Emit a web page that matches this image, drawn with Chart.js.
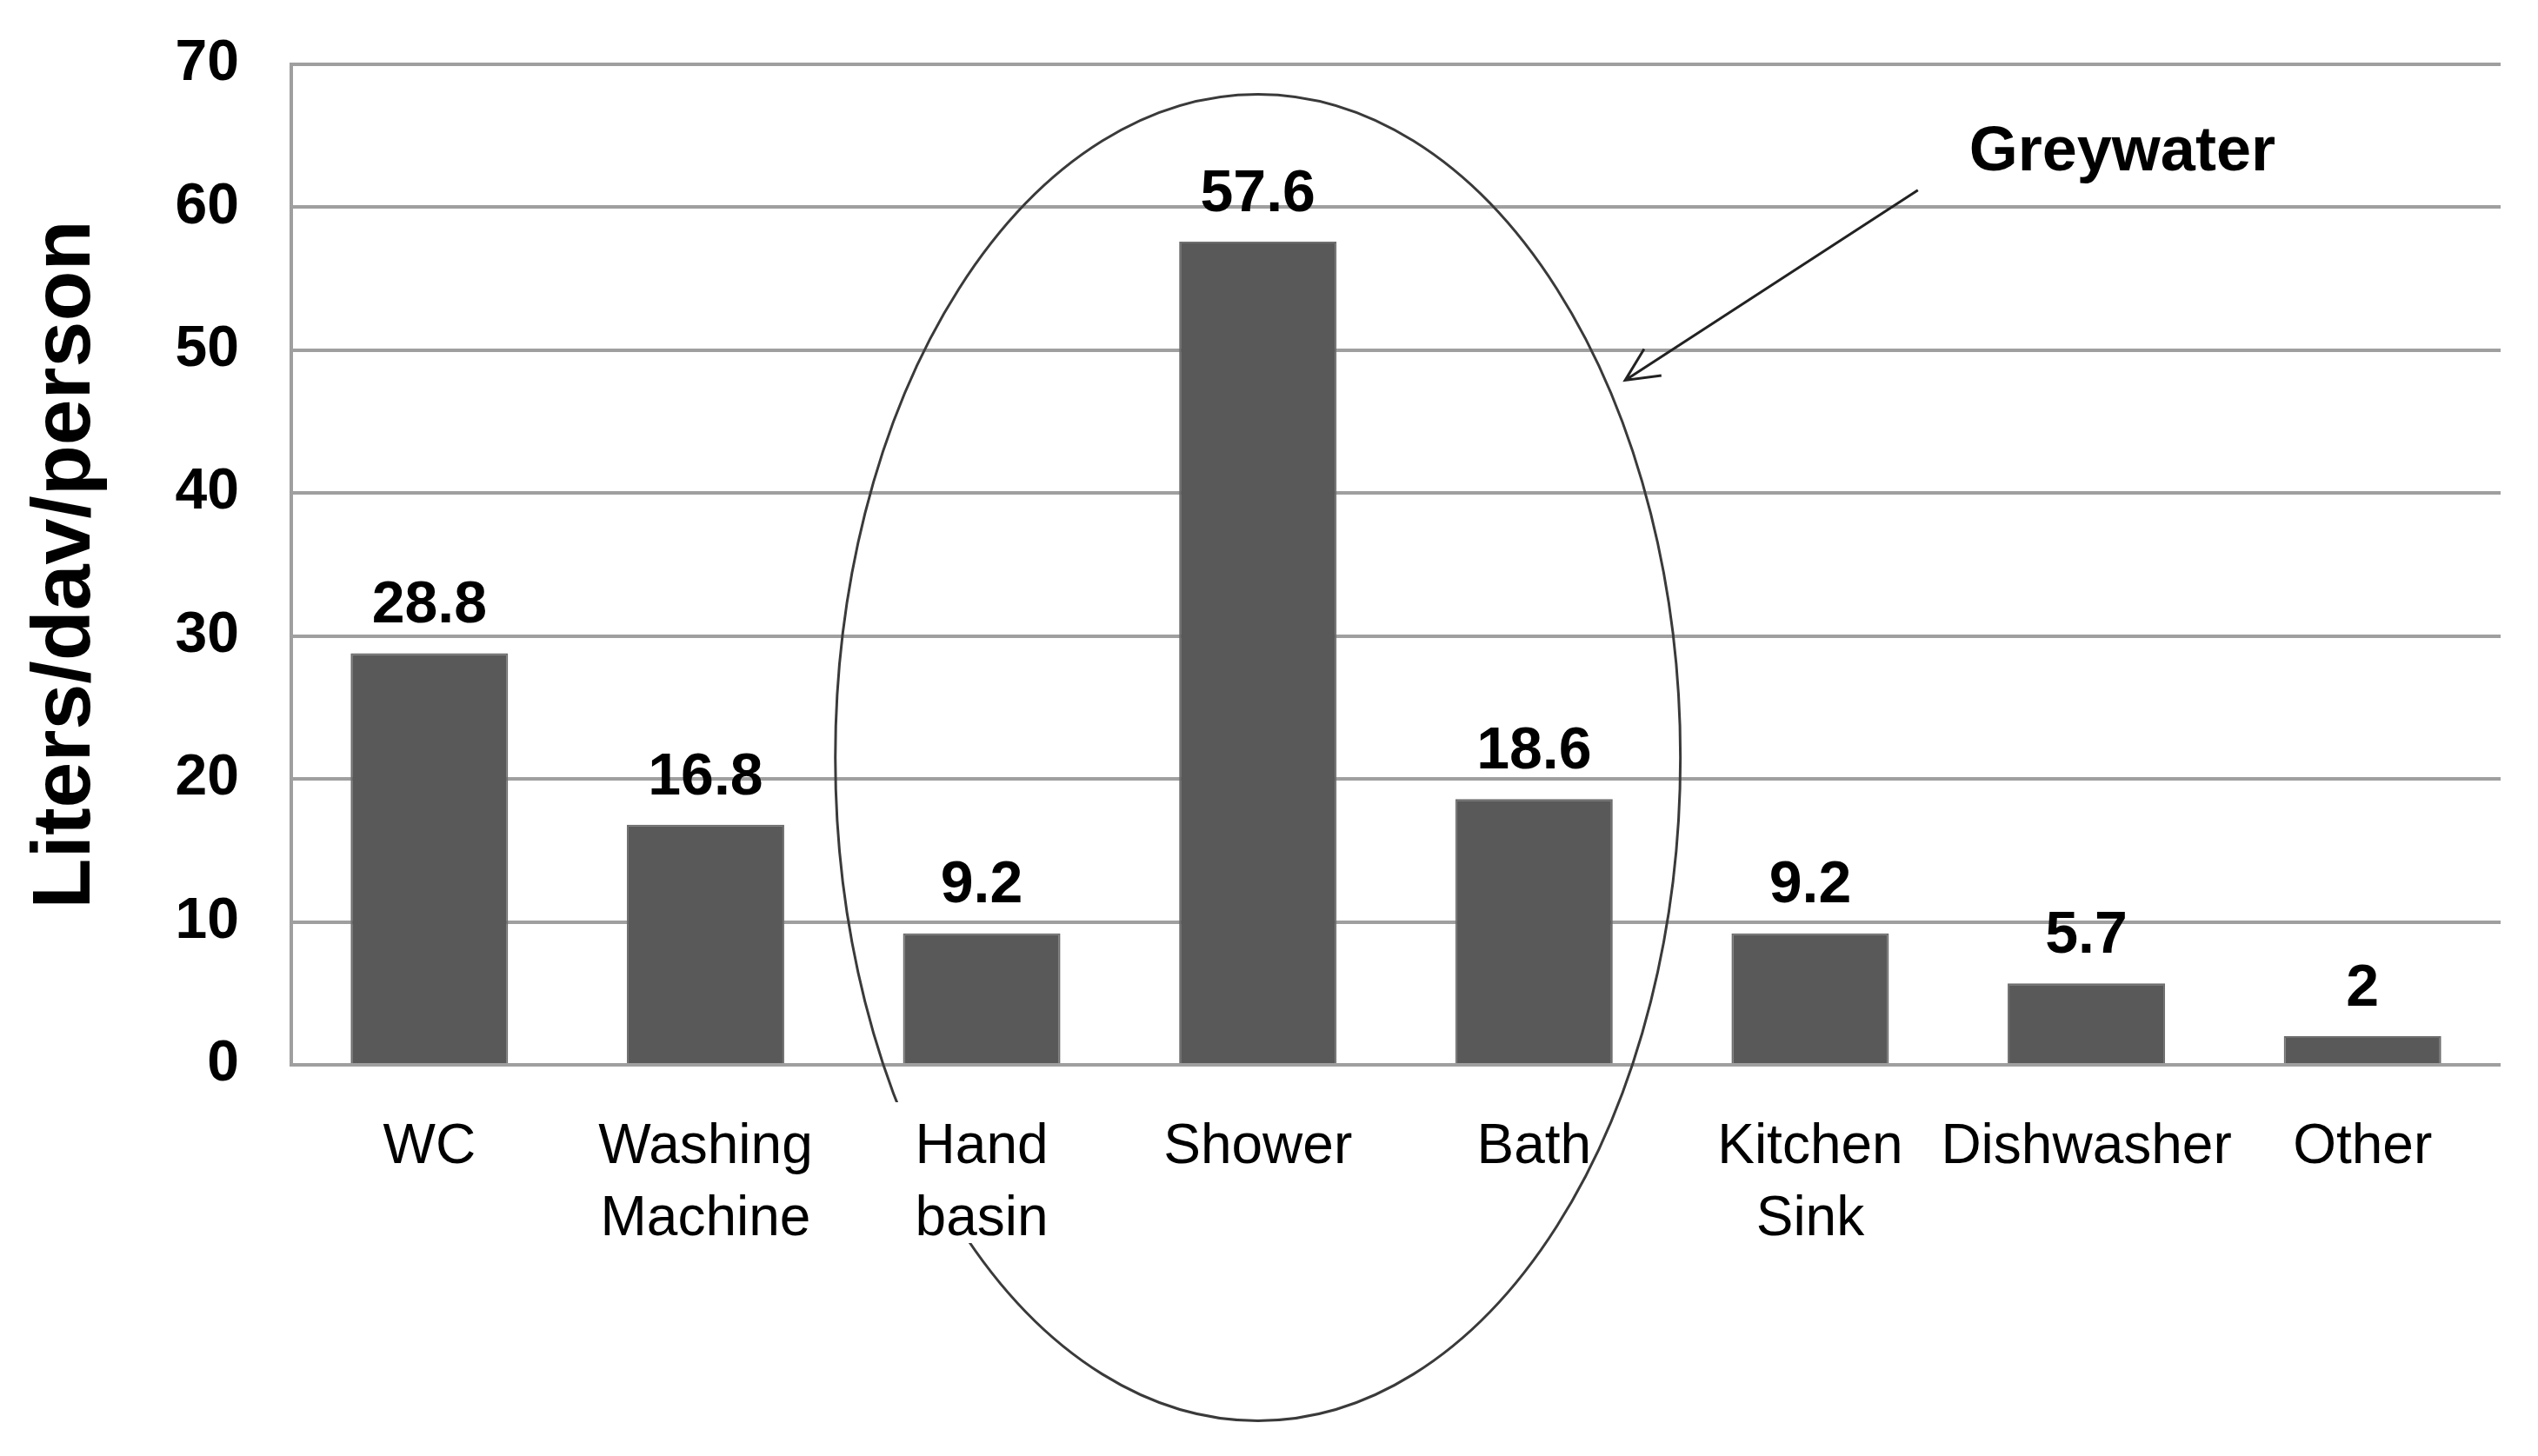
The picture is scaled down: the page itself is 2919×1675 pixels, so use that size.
<!DOCTYPE html>
<html>
<head>
<meta charset="utf-8">
<script src="https://cdn.jsdelivr.net/npm/chart.js@4.4.1/dist/chart.umd.min.js"></script>
<style>
  html, body { margin: 0; padding: 0; background: #fff; }
  #wrap { width: 2919px; height: 1675px; }
</style>
</head>
<body>
<div id="wrap"><canvas id="myChart" width="2919" height="1675"></canvas></div>
<script>
// data
const categories = ["WC", ["Washing", "Machine"], ["Hand", "basin"], "Shower", "Bath", ["Kitchen", "Sink"], "Dishwasher", "Other"];
const litersPerDay = [28.8, 16.8, 9.2, 57.6, 18.6, 9.2, 5.7, 2];
const yTicks = [0, 10, 20, 30, 40, 50, 60, 70];

// greywater annotation, in axis units (category index / liters)
const greyEllipse = [3, 21.5, 1.53, 46.4];     // cx, cy, rx, ry
const greyArrow = [5.39, 61.2, 4.33, 47.9];    // from x, y, to x, y
const greyLabel = ["Greywater", 6.13, 63.8];

const FONT = "'Liberation Sans', Arial, sans-serif";
const GRID = "#9f9f9f";

const barValues = {
  id: "barValues",
  afterDatasetsDraw(chart) {
    const { ctx } = chart;
    const meta = chart.getDatasetMeta(0);
    ctx.save();
    ctx.font = "bold 68px " + FONT;
    ctx.fillStyle = "#000";
    ctx.textAlign = "center";
    ctx.textBaseline = "bottom";
    meta.data.forEach((bar, i) => {
      ctx.fillText(String(litersPerDay[i]), bar.x, bar.y - 20);
    });
    ctx.restore();
  }
};

const greywater = {
  id: "greywater",
  afterDraw(chart) {
    const { ctx, scales: { x, y } } = chart;

    // ellipse, with a gap where the "Hand basin" label sits
    const cx = x.getPixelForValue(greyEllipse[0]);
    const cy = y.getPixelForValue(greyEllipse[1]);
    const step = x.getPixelForValue(1) - x.getPixelForValue(0);
    const rx = greyEllipse[2] * step;
    const ry = y.getPixelForValue(0) - y.getPixelForValue(greyEllipse[3]);
    const hx = x.getPixelForValue(2);
    ctx.save();
    ctx.beginPath();
    ctx.rect(0, 0, chart.width, chart.height);
    ctx.rect(hx - 110, x.top + 43, 200, 162);
    ctx.clip("evenodd");
    ctx.strokeStyle = "#3a3a3a";
    ctx.lineWidth = 3;
    ctx.beginPath();
    ctx.ellipse(cx, cy, rx, ry, 0, 0, Math.PI * 2);
    ctx.stroke();
    ctx.restore();

    // arrow
    const x1 = x.getPixelForValue(greyArrow[0]), y1 = y.getPixelForValue(greyArrow[1]);
    const x2 = x.getPixelForValue(greyArrow[2]), y2 = y.getPixelForValue(greyArrow[3]);
    const ang = Math.atan2(y2 - y1, x2 - x1);
    const head = 42;
    ctx.save();
    ctx.strokeStyle = "#222";
    ctx.lineWidth = 3;
    ctx.beginPath();
    ctx.moveTo(x1, y1);
    ctx.lineTo(x2, y2);
    ctx.moveTo(x2 - head * Math.cos(ang - 0.45), y2 - head * Math.sin(ang - 0.45));
    ctx.lineTo(x2, y2);
    ctx.lineTo(x2 - head * Math.cos(ang + 0.45), y2 - head * Math.sin(ang + 0.45));
    ctx.stroke();

    ctx.font = "bold 72px " + FONT;
    ctx.fillStyle = "#000";
    ctx.textAlign = "center";
    ctx.textBaseline = "middle";
    ctx.fillText(greyLabel[0], x.getPixelForValue(greyLabel[1]), y.getPixelForValue(greyLabel[2]));
    ctx.restore();
  }
};

const ctx = document.getElementById("myChart").getContext("2d");
new Chart(ctx, {
  type: "bar",
  data: {
    labels: categories,
    datasets: [{
      label: "Liters/day/person",
      data: litersPerDay,
      backgroundColor: "#595959",
      borderColor: "#6e6e6e",
      borderWidth: 2,
      barPercentage: 0.57,
      categoryPercentage: 1.0
    }]
  },
  options: {
    responsive: false,
    animation: false,
    devicePixelRatio: 1,
    layout: { padding: { top: 74, right: 43, bottom: 0, left: 0 } },
    plugins: {
      legend: { display: false },
      tooltip: { enabled: false }
    },
    scales: {
      x: {
        grid: { display: false },
        border: { display: false },
        ticks: {
          color: "#000",
          font: { family: FONT, size: 64, lineHeight: 1.31 },
          padding: 45,
          maxRotation: 0,
          autoSkip: false
        },
        afterFit: s => { s.height = 450; }
      },
      y: {
        min: 0,
        max: 70,
        afterBuildTicks: s => { s.ticks = yTicks.map(v => ({ value: v })); },
        // invisible tick marks push the labels away from the axis line
        grid: { color: GRID, lineWidth: 4, drawTicks: true, tickLength: 58, tickColor: "rgba(0,0,0,0)" },
        border: { color: GRID, width: 4 },
        ticks: {
          color: "#000",
          font: { family: FONT, size: 66, weight: "bold" },
          padding: 2
        },
        title: {
          display: true,
          text: "Liters/dav/person",
          color: "#000",
          font: { family: FONT, size: 95, weight: "bold" },
          padding: { top: 20, bottom: 0 }
        },
        afterFit: s => { s.width = 335; }
      }
    }
  },
  plugins: [barValues, greywater]
});
</script>
</body>
</html>
